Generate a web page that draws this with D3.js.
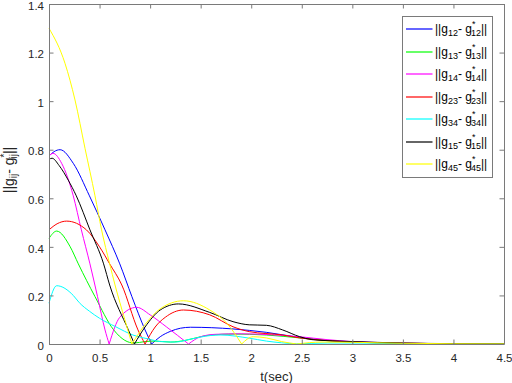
<!DOCTYPE html>
<html>
<head>
<meta charset="utf-8">
<script src="https://cdn.jsdelivr.net/npm/d3@7"></script>
<style>
  body { margin: 0; background: #fff; }
  svg { font-family: "Liberation Sans", Arial, Helvetica, sans-serif; }
  .axis text { fill: #262626; font-size: 11.5px; }
</style>
</head>
<body>
<div id="graph"></div>
<script>

// series values, [t (sec), ||g - g*||]
var g12 = [[0,0.774],[0.05,0.792],[0.11,0.80],[0.24,0.744],[0.40,0.61],[0.554,0.47],[0.70,0.33],[0.82,0.195],[0.95,0.058],[1.015,0],
    [1.1,0.03],[1.2,0.052],[1.3,0.065],[1.40,0.069],[1.82,0.062],[2.15,0.048],[2.48,0.027],[2.75,0.015],[3.0,0.009],[3.5,0.003],[4.0,0.001],[4.5,0.0005]];
var g13 = [[0,0.435],[0.076,0.465],[0.21,0.40],[0.29,0.33],[0.455,0.195],[0.64,0.058],[0.75,0.015],[0.84,0.004],[0.95,0.01],[1.05,0.012],
    [1.2,0.008],[1.35,0.015],[1.5,0.03],[1.6,0.037],[1.82,0.041],[2.15,0.037],[2.48,0.025],[2.75,0.014],[3.0,0.008],[3.5,0.003],[4.0,0.001],[4.5,0.0005]];
var g14 = [[0,0.775],[0.04,0.785],[0.125,0.744],[0.24,0.61],[0.32,0.47],[0.405,0.33],[0.48,0.195],[0.554,0.058],[0.595,0],
    [0.7,0.11],[0.867,0.151],[1.0,0.12],[1.16,0.071],[1.38,0],[1.5,0.03],[1.65,0.04],[1.9,0.042],[2.2,0.038],[2.48,0.03],[2.75,0.018],[3.0,0.01],[3.5,0.004],[4.0,0.001],[4.5,0.0005]];
var g23 = [[0,0.47],[0.08,0.495],[0.175,0.506],[0.37,0.47],[0.50,0.40],[0.60,0.33],[0.72,0.243],[0.88,0.058],[0.95,0],
    [1.05,0.07],[1.15,0.11],[1.33,0.14],[1.59,0.12],[1.82,0.071],[1.98,0.051],[2.31,0.037],[2.48,0.025],[2.75,0.014],[3.0,0.008],[3.5,0.003],[4.0,0.001],[4.5,0.0005]];
var g34 = [[0,0.168],[0.076,0.24],[0.24,0.20],[0.30,0.17],[0.40,0.135],[0.50,0.106],[0.66,0.071],[0.83,0.037],[0.99,0.02],[1.1,0.01],
    [1.25,0.008],[1.4,0.02],[1.6,0.035],[1.7,0.037],[1.98,0.024],[2.15,0.012],[2.3,0.005],[2.45,0.001],[2.75,0.004],[3.0,0.004],[3.5,0.002],[4.5,0.0005]];
var g15 = [[0,0.76],[0.03,0.765],[0.1,0.735],[0.19,0.675],[0.27,0.61],[0.405,0.47],[0.54,0.33],[0.60,0.243],[0.785,0.058],[0.845,0],
    [0.95,0.07],[1.1,0.14],[1.28,0.165],[1.59,0.13],[1.82,0.092],[1.98,0.079],[2.15,0.077],[2.31,0.058],[2.48,0.03],[2.6,0.018],[2.8,0.013],[3.0,0.01],[3.5,0.004],[4.0,0.0015],[4.5,0.0005]];
var g45 = [[0,1.30],[0.158,1.156],[0.257,1.005],[0.356,0.806],[0.455,0.61],[0.52,0.47],[0.60,0.33],[0.653,0.243],[0.75,0.10],[0.82,0],
    [0.95,0.08],[1.1,0.145],[1.33,0.178],[1.59,0.14],[1.76,0.085],[1.905,0],[2.02,0.03],[2.15,0.025],[2.3,0.01],[2.45,0],[2.7,0.008],[3.0,0.007],[3.5,0.003],[4.0,0.001],[4.5,0.0005]];

var legendSubs = ["12", "13", "14", "23", "34", "15", "45"];
var seriesData = [g12, g13, g14, g23, g34, g15, g45];
var seriesColors = ["#0000ff", "#00ff00", "#ff00ff", "#ff0000", "#00ffff", "#000000", "#ffff00"];

var xTicks = [0, 0.5, 1, 1.5, 2, 2.5, 3, 3.5, 4, 4.5];
var yTicks = [0, 0.2, 0.4, 0.6, 0.8, 1, 1.2, 1.4];

var margin = {top: 4, right: 8, bottom: 39, left: 49}
    , width = 512 - margin.left - margin.right
    , height = 383 - margin.top - margin.bottom;

var svg = d3.select("#graph").append("svg")
    .attr("width", 512)
    .attr("height", 383)
    .append("g")
    .attr("transform", "translate(" + margin.left + "," + margin.top + ")");

var xScale = d3.scaleLinear().domain([0, 4.5]).range([0, width]);
var yScale = d3.scaleLinear().domain([0, 1.4]).range([height, 0]);

// split a series at its exact zeros so the V corners stay sharp
function segments(data) {
    var out = [], cur = [];
    data.forEach(function(p, i) {
        cur.push(p);
        if (p[1] === 0 && i > 0 && i < data.length - 1) {
            out.push(cur);
            cur = [p];
        }
    });
    out.push(cur);
    return out;
}

var line = d3.line()
    .x(function(d) { return xScale(d[0]); })
    .y(function(d) { return yScale(d[1]); })
    .curve(d3.curveMonotoneX);

seriesData.forEach(function(data, i) {
    svg.append("path")
        .attr("fill", "none")
        .attr("stroke", seriesColors[i])
        .attr("stroke-width", 1)
        .attr("d", segments(data).map(line).join(""));
});

// axes, MATLAB style box with inward ticks
var axisColor = "#7a7a7a";
var fmt = function(d) { return String(d); };

svg.append("g").attr("class", "axis")
    .attr("transform", "translate(0," + height + ")")
    .call(d3.axisBottom(xScale).tickValues(xTicks).tickFormat(fmt).tickSizeInner(-4.5).tickSizeOuter(0).tickPadding(10));
svg.append("g").attr("class", "axis")
    .call(d3.axisTop(xScale).tickValues(xTicks).tickFormat("").tickSizeInner(-4.5).tickSizeOuter(0));
svg.append("g").attr("class", "axis y")
    .call(d3.axisLeft(yScale).tickValues(yTicks).tickFormat(fmt).tickSizeInner(-4.5).tickSizeOuter(0).tickPadding(5));
svg.append("g").attr("class", "axis")
    .attr("transform", "translate(" + width + ",0)")
    .call(d3.axisRight(yScale).tickValues(yTicks).tickFormat("").tickSizeInner(-4.5).tickSizeOuter(0));

svg.selectAll(".axis .domain").attr("stroke", axisColor);
svg.selectAll(".axis .tick line").attr("stroke", axisColor);
svg.selectAll(".axis.y .tick text").attr("y", 1.5);

// axis labels
svg.append("text")
    .attr("x", width / 2)
    .attr("y", height + 37)
    .attr("text-anchor", "middle")
    .attr("fill", "#262626")
    .style("font-size", "13px")
    .text("t(sec)");

function normText(sel, sub, size) {
    var small = Math.round(size * 0.72);
    sel.append("tspan").text("||g");
    sel.append("tspan").attr("dy", 3).style("font-size", small + "px").text(sub);
    sel.append("tspan").attr("dy", -3).text("- g");
    sel.append("tspan").attr("dy", -6).style("font-size", small + "px").text("*");
    sel.append("tspan").attr("dx", -small * 0.5).attr("dy", 9).style("font-size", small + "px").text(sub);
    sel.append("tspan").attr("dy", -3).text("||");
}

var yLab = svg.append("text")
    .attr("transform", "translate(" + (-35) + "," + (height / 2 - 4) + ") rotate(-90)")
    .attr("text-anchor", "middle")
    .attr("fill", "#262626")
    .style("font-size", "14px");
normText(yLab, "ij", 14);

// legend
var legend = svg.append("g")
    .attr("transform", "translate(" + (402 - margin.left) + "," + (16 - margin.top) + ")");

legend.append("rect")
    .attr("x", 0.5).attr("y", 0.5)
    .attr("width", 90)
    .attr("height", 161)
    .attr("fill", "#fff")
    .attr("stroke", axisColor)
    .attr("stroke-width", 1);

legendSubs.forEach(function(sub, i) {
    var y = Math.round(13 + i * 22.5);
    legend.append("line")
        .attr("x1", 4).attr("x2", 30.5)
        .attr("y1", y).attr("y2", y)
        .attr("stroke", seriesColors[i])
        .attr("stroke-width", 1.2);
    var t = legend.append("text")
        .attr("x", 33)
        .attr("y", y + 4)
        .attr("fill", "#000")
        .style("font-size", "12px");
    normText(t, sub, 12);
});

</script>
</body>
</html>
